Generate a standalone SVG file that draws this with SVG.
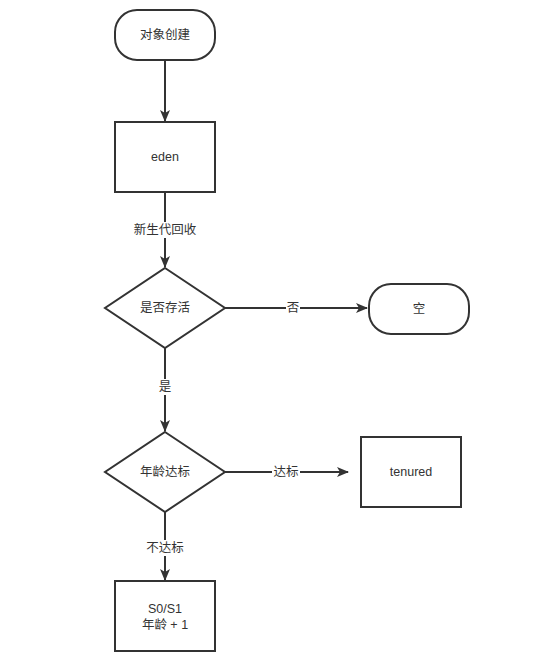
<svg xmlns="http://www.w3.org/2000/svg" width="544" height="666" viewBox="0 0 544 666">
<defs>
<marker id="arr" viewBox="0 0 12 10" refX="11" refY="5" markerWidth="12" markerHeight="10" markerUnits="userSpaceOnUse" orient="auto"><path d="M0,0 L12,5 L0,10 L3,5 Z" fill="#333"/></marker>
</defs>
<style>
.s{fill:#fff;stroke:#333;stroke-width:2}
.t{font-family:"Liberation Sans","Noto Sans CJK SC",sans-serif;font-size:12.5px;fill:#333;text-anchor:middle;dominant-baseline:central}
.e{stroke:#333;stroke-width:2;fill:none;marker-end:url(#arr)}
.lb{fill:#fff}
</style>
<rect width="544" height="666" fill="#fff"/>
<g id="connectors">
<path class="e" d="M165,60 L165,121"/>
<path class="e" d="M165,192 L165,267"/>
<path class="e" d="M225,308 L367,308"/>
<path class="e" d="M165,348 L165,431"/>
<path class="e" d="M225,472 L348,472"/>
<path class="e" d="M165,511 L165,580"/>
<rect class="lb" x="132" y="222" width="66" height="16"/>
<text class="t" x="165" y="230">新生代回收</text>
<rect class="lb" x="286" y="300" width="14" height="16"/>
<text class="t" x="293" y="308">否</text>
<rect class="lb" x="158" y="379" width="14" height="16"/>
<text class="t" x="165" y="387">是</text>
<rect class="lb" x="272" y="464" width="28" height="16"/>
<text class="t" x="286" y="472">达标</text>
<rect class="lb" x="144" y="540" width="42" height="16"/>
<text class="t" x="165" y="548">不达标</text>
</g>
<g id="create">
<rect class="s" x="115" y="10" width="100" height="50" rx="22" ry="22"/>
<text class="t" x="165" y="35">对象创建</text>
</g>
<g id="eden">
<rect class="s" x="115" y="122" width="100" height="70"/>
<text class="t" x="165" y="157">eden</text>
</g>
<g id="alive">
<path class="s" d="M165,268 L225,308 L165,348 L105,308 Z"/>
<text class="t" x="165" y="308">是否存活</text>
</g>
<g id="empty">
<rect class="s" x="369" y="284" width="100" height="50" rx="22" ry="22"/>
<text class="t" x="419" y="309">空</text>
</g>
<g id="age">
<path class="s" d="M165,432 L225,472 L165,512 L105,472 Z"/>
<text class="t" x="165" y="472">年龄达标</text>
</g>
<g id="tenured">
<rect class="s" x="361" y="437" width="100" height="70"/>
<text class="t" x="411" y="472">tenured</text>
</g>
<g id="survivor">
<rect class="s" x="115" y="581" width="100" height="70"/>
<text class="t" x="165" y="609">S0/S1</text>
<text class="t" x="165" y="625" xml:space="preserve">年龄 + 1</text>
</g>
</svg>
